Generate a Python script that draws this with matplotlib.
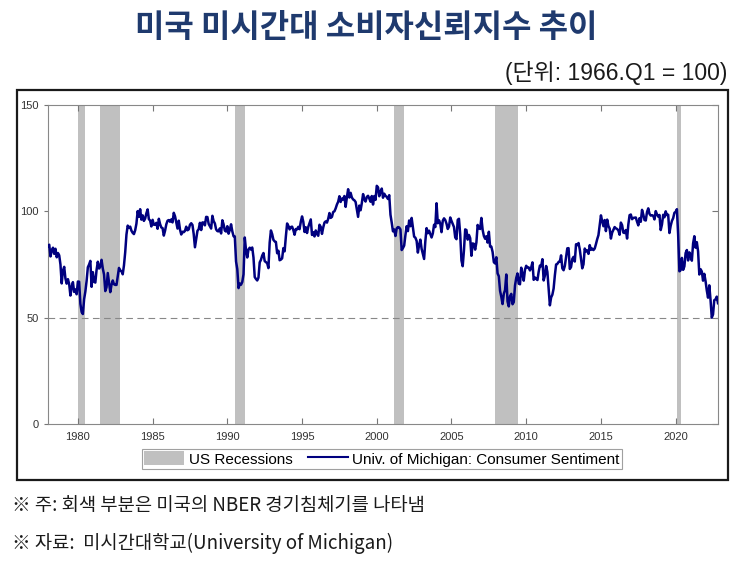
import numpy as np
import matplotlib
matplotlib.use("Agg")
import matplotlib.pyplot as plt
from matplotlib.patches import Rectangle, Patch
from matplotlib.lines import Line2D

plt.rcParams['font.family'] = ['Liberation Sans', 'Noto Sans CJK KR']

# monthly UMich consumer sentiment, Jan 1978 .. Nov 2022
start_year = 1978
sentiment = [
    83.7, 84.3, 78.8, 81.6, 82.9, 80.0, 82.4, 78.4, 80.4, 79.3, 75.0, 66.1,
    72.1, 73.9, 68.4, 66.0, 68.1, 65.8, 60.4, 64.5, 66.7, 62.1, 63.3, 61.0,
    67.0, 66.9, 56.5, 52.7, 51.7, 58.7, 62.3, 67.3, 73.7, 75.0, 76.7, 64.5,
    71.4, 66.9, 66.5, 72.4, 76.3, 73.1, 74.1, 77.2, 73.1, 70.3, 62.5, 64.3,
    71.0, 66.5, 62.0, 65.5, 67.5, 65.7, 65.4, 65.4, 69.3, 73.4, 72.1, 71.9,
    70.4, 74.6, 80.8, 89.1, 93.3, 92.2, 92.8, 90.9, 89.9, 89.3, 91.1, 94.2,
    100.1, 97.4, 101.0, 96.1, 98.1, 95.5, 96.6, 99.1, 100.9, 96.3, 95.7, 92.9,
    96.0, 93.7, 93.7, 94.6, 91.8, 96.5, 94.0, 92.4, 92.1, 88.6, 90.9, 93.9,
    95.6, 95.9, 95.1, 96.2, 94.8, 99.3, 97.7, 94.9, 91.9, 95.6, 91.4, 89.1,
    90.4, 90.2, 90.8, 92.8, 91.1, 91.5, 93.7, 94.4, 93.6, 89.3, 83.1, 86.8,
    90.8, 91.6, 94.6, 91.2, 94.8, 94.7, 93.4, 97.4, 97.3, 94.1, 93.0, 91.9,
    97.9, 95.4, 94.3, 91.5, 90.7, 90.6, 92.0, 89.6, 95.8, 93.9, 90.9, 90.5,
    93.0, 89.5, 91.3, 93.9, 90.6, 88.3, 88.2, 76.4, 72.8, 63.9, 66.0, 65.5,
    66.8, 70.4, 87.7, 81.8, 78.3, 82.1, 82.9, 82.0, 83.0, 78.3, 69.1, 68.2,
    67.5, 68.8, 76.0, 77.2, 79.2, 80.4, 76.6, 76.1, 75.6, 73.3, 85.3, 91.0,
    89.3, 86.6, 85.9, 85.6, 80.3, 81.5, 77.0, 77.3, 77.9, 82.7, 81.2, 88.2,
    94.3, 93.2, 91.5, 92.6, 92.8, 91.2, 89.0, 91.7, 91.5, 92.7, 91.6, 95.1,
    97.6, 95.1, 90.3, 92.5, 89.8, 92.7, 94.4, 96.2, 88.9, 90.2, 88.2, 91.0,
    89.3, 88.5, 93.7, 92.7, 89.4, 92.4, 94.7, 95.3, 94.7, 96.5, 99.2, 96.9,
    97.4, 99.7, 100.0, 101.4, 103.2, 104.5, 107.1, 104.4, 106.0, 105.6, 107.2, 102.1,
    106.6, 110.4, 106.5, 108.7, 106.5, 105.6, 105.2, 104.4, 100.9, 97.4, 102.7, 100.5,
    103.9, 108.1, 105.7, 104.6, 106.8, 107.3, 106.0, 104.5, 107.2, 103.2, 107.2, 105.4,
    112.0, 111.3, 107.1, 109.2, 110.7, 106.4, 108.3, 107.3, 106.8, 105.8, 107.6, 98.4,
    94.7, 90.6, 91.5, 88.4, 92.0, 92.6, 92.4, 91.5, 81.8, 82.7, 83.9, 88.8,
    93.0, 90.7, 95.7, 93.0, 96.9, 92.4, 88.1, 87.6, 86.1, 80.6, 84.2, 86.7,
    82.4, 79.9, 77.6, 86.0, 92.1, 89.7, 90.9, 89.3, 87.7, 89.6, 93.7, 92.6,
    103.8, 94.4, 95.8, 94.2, 90.2, 95.6, 96.7, 95.9, 94.2, 91.7, 92.8, 97.1,
    95.5, 94.1, 92.6, 87.7, 86.9, 96.0, 96.5, 89.1, 76.9, 74.2, 81.6, 91.5,
    91.2, 86.7, 88.9, 87.4, 79.1, 84.9, 84.7, 82.0, 85.4, 93.6, 92.1, 91.7,
    96.9, 91.3, 88.4, 87.1, 88.3, 85.3, 90.4, 83.4, 83.4, 80.9, 76.1, 75.5,
    78.4, 70.8, 69.5, 62.6, 59.8, 56.4, 61.2, 63.0, 70.3, 57.6, 55.3, 60.1,
    61.2, 56.3, 57.3, 65.1, 68.7, 70.8, 66.0, 65.7, 73.5, 70.6, 67.4, 72.5,
    74.4, 73.6, 73.6, 72.2, 73.6, 76.0, 67.8, 68.9, 68.2, 67.7, 71.6, 74.5,
    74.2, 77.5, 67.5, 69.8, 74.3, 71.5, 63.7, 55.8, 59.5, 60.8, 63.7, 69.9,
    75.0, 75.3, 76.2, 76.4, 79.3, 73.2, 72.3, 74.3, 78.3, 82.6, 82.7, 72.9,
    73.8, 77.6, 78.6, 76.4, 84.5, 84.1, 85.1, 82.1, 77.5, 73.2, 75.1, 82.5,
    81.2, 81.6, 80.0, 84.1, 81.9, 82.5, 81.8, 82.5, 84.6, 86.9, 88.8, 93.6,
    98.1, 95.4, 93.0, 95.9, 90.7, 96.1, 93.1, 91.9, 87.2, 90.0, 91.3, 92.6,
    92.0, 91.7, 91.0, 89.0, 94.7, 93.5, 90.0, 89.8, 91.2, 87.2, 93.8, 98.2,
    98.5, 96.3, 96.9, 97.0, 97.1, 95.1, 93.4, 96.8, 95.1, 100.7, 98.5, 95.9,
    95.7, 99.7, 101.4, 98.8, 98.0, 98.2, 97.9, 96.2, 100.1, 98.6, 97.5, 98.3,
    91.2, 93.8, 98.4, 97.2, 100.0, 98.2, 98.4, 89.8, 93.2, 95.5, 96.8, 99.3,
    99.8, 101.0, 89.1, 71.8, 72.3, 78.1, 72.5, 74.1, 80.4, 81.8, 76.9, 80.7,
    79.0, 76.8, 84.9, 88.3, 82.9, 85.5, 81.2, 70.3, 72.8, 71.7, 67.4, 70.6,
    67.2, 62.8, 59.4, 65.2, 58.4, 50.0, 51.5, 58.2, 58.6, 59.9, 56.8,
]

# NBER recession periods (decimal years)
rec_start = [1980.0, 1981.5, 1990.5, 2001.17, 2007.92, 2020.06]
rec_end = [1980.5, 1982.83, 1991.17, 2001.83, 2009.42, 2020.33]

x_ticks = [1980, 1985, 1990, 1995, 2000, 2005, 2010, 2015, 2020]
y_ticks = [0, 50, 100, 150]

title = "미국 미시간대 소비자신뢰지수 추이"
unit_label = "(단위: 1966.Q1 = 100)"
note1 = "※ 주: 회색 부분은 미국의 NBER 경기침체기를 나타냄"
note2 = "※ 자료:  미시간대학교(University of Michigan)"

navy = "#00007f"
rec_color = "#c0c0c0"

W, H = 745, 568
fig = plt.figure(figsize=(W / 100, H / 100), dpi=100)

# outer frame round the chart
fig.patches.append(Rectangle((17 / W, 1 - 480 / H), 711 / W, 390 / H,
                             transform=fig.transFigure, fill=False,
                             edgecolor="#1a1a1a", linewidth=1.6))

ax = fig.add_axes([48 / W, 1 - 424 / H, 670 / W, 319 / H])

months = start_year + np.arange(len(sentiment)) / 12
for s, e in zip(rec_start, rec_end):
    ax.axvspan(s, e, color=rec_color, linewidth=0, zorder=1)
ax.axhline(50, color="#888888", linestyle=(0, (6, 4)), linewidth=0.8, zorder=2)
ax.plot(months, sentiment, color=navy, linewidth=1.8, zorder=3)

ax.set_xlim(1978, months[-1])
ax.set_ylim(0, 150)
ax.set_xticks(x_ticks)
ax.set_yticks(y_ticks)
ax.tick_params(axis="x", direction="in", top=True, length=4, width=0.8,
               colors="#777777", labelcolor="#333333", labelsize=8, pad=6)
ax.tick_params(axis="y", direction="out", right=True, length=3, width=0.8,
               colors="#777777", labelcolor="#333333", labelsize=8)
for t in ax.yaxis.get_major_ticks():
    t.tick2line.set_marker(matplotlib.lines.TICKLEFT)
    t.tick2line.set_markersize(4)
for sp in ax.spines.values():
    sp.set_color("#888888")
    sp.set_linewidth(0.8)

handles = [Patch(facecolor=rec_color, edgecolor="none"),
           Line2D([], [], color=navy, linewidth=1.5)]
leg = fig.legend(handles, ["US Recessions", "Univ. of Michigan: Consumer Sentiment"],
                 loc="center", bbox_to_anchor=(382 / W, 1 - 459 / H), ncol=2,
                 fontsize=11, frameon=True, fancybox=False, edgecolor="#888888",
                 handlelength=2.6, handleheight=1.0, handletextpad=0.3,
                 columnspacing=1.0, borderpad=0.15, borderaxespad=0)
leg.get_frame().set_linewidth(0.8)

fig.text(366 / W, 1 - 28 / H, title, ha="center", va="center",
         family=["Noto Sans CJK KR"], fontweight="bold", fontsize=23,
         color="#1f3a6e")
fig.text(727 / W, 1 - 73 / H, unit_label, ha="right", va="center",
         family=["Liberation Sans", "Noto Sans CJK KR"], fontsize=16.5,
         color="#1a1a1a")
fig.text(12 / W, 1 - 505 / H, note1, ha="left", va="center",
         family=["Noto Sans CJK KR"], fontsize=13.5, color="#1a1a1a")
fig.text(12 / W, 1 - 543 / H, note2, ha="left", va="center",
         family=["Noto Sans CJK KR"], fontsize=13.5, color="#1a1a1a")

fig.savefig("out.png", dpi=100)
